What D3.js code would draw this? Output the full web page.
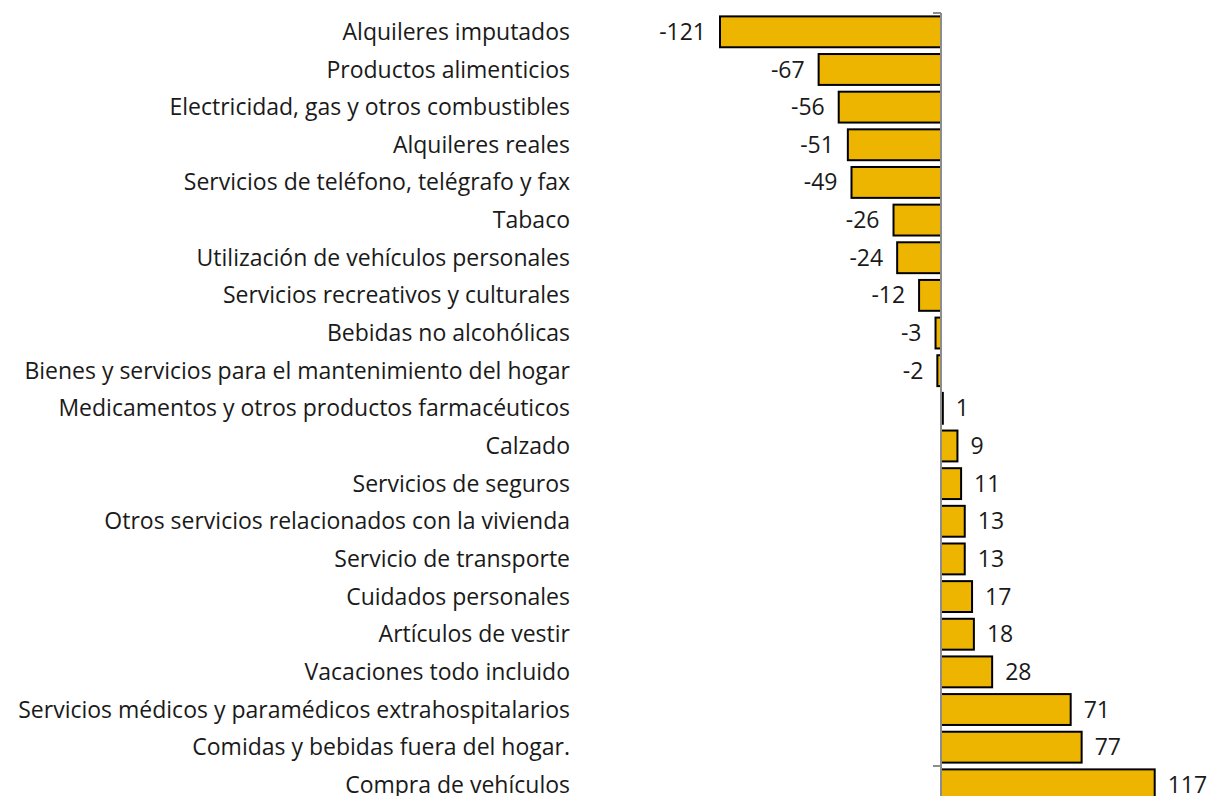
<!DOCTYPE html>
<html>
<head>
<meta charset="utf-8">
<script src="https://cdn.jsdelivr.net/npm/d3@7"></script>
<style>
  body { margin: 0; background: #fff; }
  text { font-family: "Open Sans", sans-serif; }
</style>
</head>
<body>
<div id="chart"></div>
<script>
const categories = [
  "Alquileres imputados",
  "Productos alimenticios",
  "Electricidad, gas y otros combustibles",
  "Alquileres reales",
  "Servicios de teléfono, telégrafo y fax",
  "Tabaco",
  "Utilización de vehículos personales",
  "Servicios recreativos y culturales",
  "Bebidas no alcohólicas",
  "Bienes y servicios para el mantenimiento del hogar",
  "Medicamentos y otros productos farmacéuticos",
  "Calzado",
  "Servicios de seguros",
  "Otros servicios relacionados con la vivienda",
  "Servicio de transporte",
  "Cuidados personales",
  "Artículos de vestir",
  "Vacaciones todo incluido",
  "Servicios médicos y paramédicos extrahospitalarios",
  "Comidas y bebidas fuera del hogar.",
  "Compra de vehículos"
];
const values = [-121, -67, -56, -51, -49, -26, -24, -12, -3, -2, 1, 9, 11, 13, 13, 17, 18, 28, 71, 77, 117];

const width = 1215, height = 796;
const svg = d3.select("#chart").append("svg")
  .attr("width", width)
  .attr("height", height);

// x: zero line sits at ~941
const x = d3.scaleLinear()
  .domain([-121, 117])
  .range([720, 1154.7]);

const y = d3.scaleBand()
  .domain(categories)
  .range([13, 13 + 37.65 * categories.length])
  .paddingInner(0.18)
  .paddingOuter(0.09);

const labelX = 570;
const fontSize = 23;

// bars
svg.append("g").selectAll("rect")
  .data(values)
  .join("rect")
  .attr("x", d => x(Math.min(0, d)))
  .attr("y", (d, i) => y(categories[i]))
  .attr("width", d => Math.abs(x(d) - x(0)))
  .attr("height", y.bandwidth())
  .attr("fill", "#EEB500")
  .attr("stroke", "#000")
  .attr("stroke-width", 2);

// zero axis line
const axis = svg.append("g");
axis.append("line")
  .attr("x1", x(0)).attr("x2", x(0))
  .attr("y1", 13).attr("y2", height)
  .attr("stroke", "#8c8c8c")
  .attr("stroke-width", 2);

// tick marks every 20 categories (category boundaries)
const tickIdx = [0, 20];
axis.selectAll(".tick")
  .data(tickIdx)
  .join("line")
  .attr("class", "tick")
  .attr("x1", x(0) - 8).attr("x2", x(0))
  .attr("y1", i => y(categories[i]) - y.step() * y.paddingInner() / 2)
  .attr("y2", i => y(categories[i]) - y.step() * y.paddingInner() / 2)
  .attr("stroke", "#8c8c8c")
  .attr("stroke-width", 2);

// category labels
svg.append("g").selectAll("text")
  .data(categories)
  .join("text")
  .attr("x", labelX)
  .attr("y", d => y(d) + y.bandwidth() / 2)
  .attr("dy", "0.35em")
  .attr("text-anchor", "end")
  .attr("fill", "#1a1a1a")
  .style("font-size", fontSize + "px")
  .text(d => d);

// value labels
svg.append("g").selectAll("text")
  .data(values)
  .join("text")
  .attr("x", d => d < 0 ? x(d) - 14 : x(d) + 13)
  .attr("y", (d, i) => y(categories[i]) + y.bandwidth() / 2)
  .attr("dy", "0.35em")
  .attr("text-anchor", d => d < 0 ? "end" : "start")
  .attr("fill", "#1a1a1a")
  .style("font-size", fontSize + "px")
  .text(d => d);
</script>
</body>
</html>
